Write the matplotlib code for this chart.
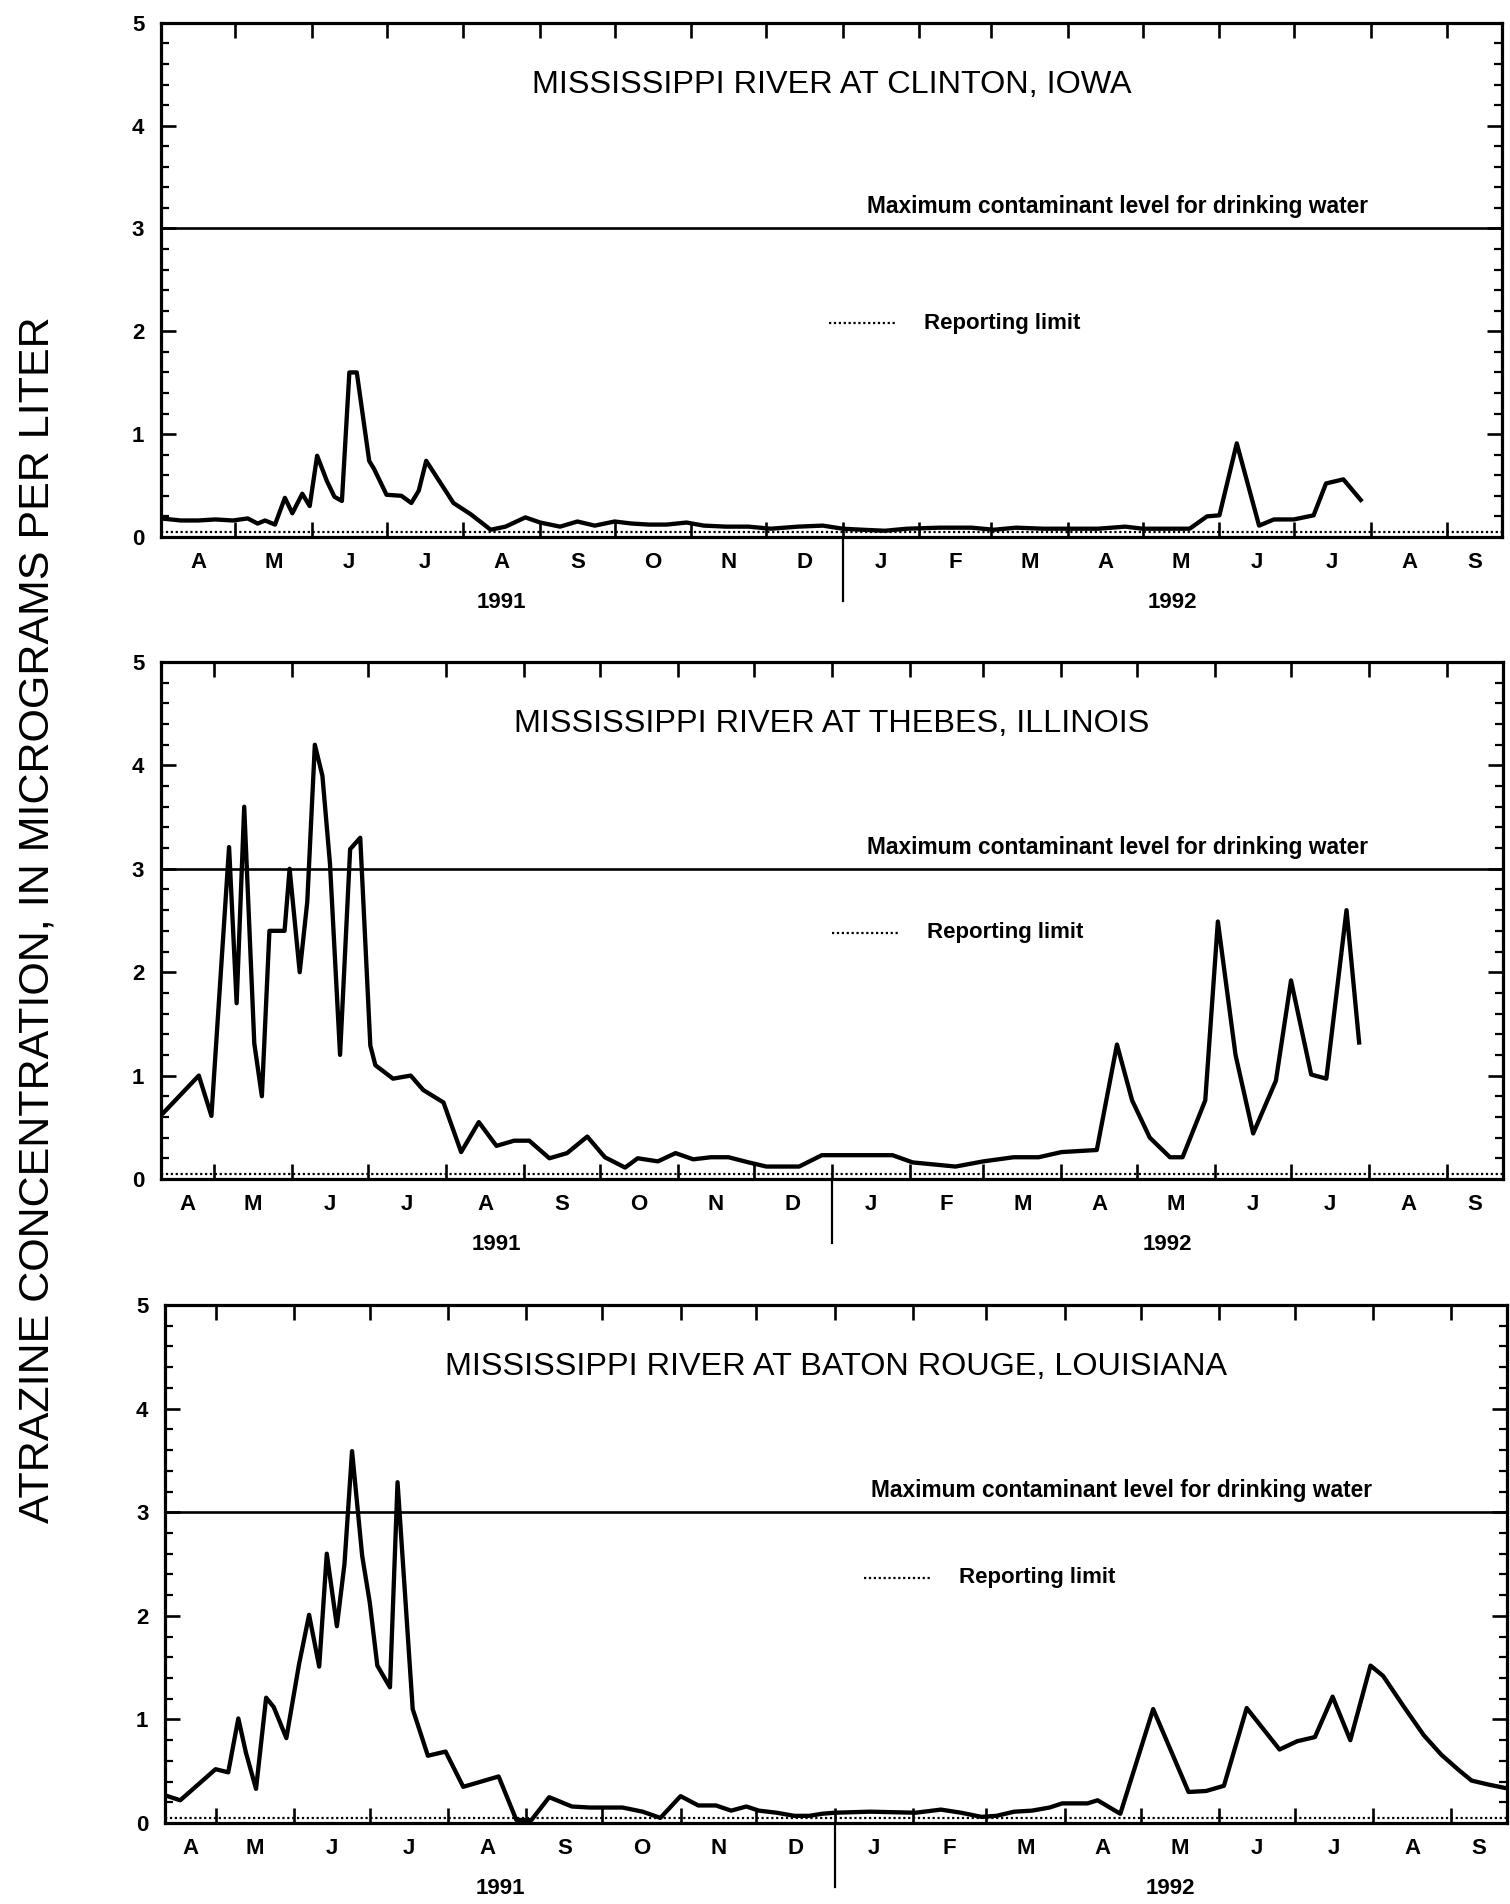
import numpy as np
import pandas as pd
import matplotlib
matplotlib.use('Agg')
from matplotlib import pyplot as plt
from matplotlib.ticker import MultipleLocator, NullFormatter
import matplotlib.dates as mdates

plt.rcParams['font.family'] = ['Liberation Sans', 'DejaVu Sans']

########## DATA ##########
clinton_dates = ['1991-04-01', '1991-04-09', '1991-04-16', '1991-04-23', '1991-04-30',
                 '1991-05-06', '1991-05-10', '1991-05-13', '1991-05-17', '1991-05-21',
                 '1991-05-24', '1991-05-28', '1991-05-31', '1991-06-03', '1991-06-07',
                 '1991-06-10', '1991-06-13', '1991-06-16', '1991-06-19', '1991-06-24',
                 '1991-06-26', '1991-07-01', '1991-07-07', '1991-07-11', '1991-07-14',
                 '1991-07-17', '1991-07-28', '1991-08-04', '1991-08-12', '1991-08-18',
                 '1991-08-26', '1991-09-01', '1991-09-09', '1991-09-16', '1991-09-23',
                 '1991-10-01', '1991-10-08', '1991-10-15', '1991-10-22', '1991-10-30',
                 '1991-11-06', '1991-11-15', '1991-11-24', '1991-12-03', '1991-12-14',
                 '1991-12-24', '1992-01-01', '1992-01-09', '1992-01-18', '1992-01-27',
                 '1992-02-09', '1992-02-22', '1992-03-02', '1992-03-11', '1992-03-22',
                 '1992-04-04', '1992-04-13', '1992-04-24', '1992-05-01', '1992-05-10',
                 '1992-05-20', '1992-05-27', '1992-06-01', '1992-06-08', '1992-06-17',
                 '1992-06-23', '1992-07-01', '1992-07-09', '1992-07-14', '1992-07-21',
                 '1992-07-28']
clinton_vals = [0.18, 0.16, 0.16, 0.17, 0.16, 0.18, 0.13, 0.16, 0.12, 0.38,
                0.23, 0.42, 0.30, 0.79, 0.54, 0.39, 0.35, 1.60, 1.60, 0.74,
                0.66, 0.41, 0.40, 0.33, 0.45, 0.74, 0.33, 0.22, 0.07, 0.10,
                0.19, 0.14, 0.10, 0.15, 0.11, 0.15, 0.13, 0.12, 0.12, 0.14,
                0.11, 0.10, 0.10, 0.08, 0.10, 0.11, 0.08, 0.07, 0.06, 0.08,
                0.09, 0.09, 0.07, 0.09, 0.08, 0.08, 0.08, 0.10, 0.08, 0.08,
                0.08, 0.20, 0.21, 0.91, 0.11, 0.17, 0.17, 0.21, 0.52, 0.56,
                0.36]

thebes_dates = ['1991-04-11', '1991-04-25', '1991-04-30', '1991-05-07', '1991-05-10',
                '1991-05-13', '1991-05-17', '1991-05-20', '1991-05-23', '1991-05-29',
                '1991-05-31', '1991-06-04', '1991-06-07', '1991-06-10', '1991-06-13',
                '1991-06-16', '1991-06-20', '1991-06-24', '1991-06-28', '1991-07-02',
                '1991-07-04', '1991-07-11', '1991-07-18', '1991-07-23', '1991-07-31',
                '1991-08-07', '1991-08-14', '1991-08-21', '1991-08-28', '1991-09-03',
                '1991-09-11', '1991-09-18', '1991-09-26', '1991-10-03', '1991-10-11',
                '1991-10-16', '1991-10-24', '1991-10-31', '1991-11-07', '1991-11-14',
                '1991-11-21', '1991-11-29', '1991-12-06', '1991-12-19', '1991-12-28',
                '1992-01-25', '1992-02-02', '1992-02-19', '1992-03-01', '1992-03-13',
                '1992-03-23', '1992-04-01', '1992-04-15', '1992-04-23', '1992-04-29',
                '1992-05-06', '1992-05-14', '1992-05-19', '1992-05-28', '1992-06-02',
                '1992-06-09', '1992-06-16', '1992-06-25', '1992-07-01', '1992-07-09',
                '1992-07-15', '1992-07-23', '1992-07-28']
thebes_vals = [0.64, 1.00, 0.61, 3.21, 1.70, 3.60, 1.31, 0.80, 2.40, 2.40,
               3.00, 2.00, 2.68, 4.20, 3.90, 3.05, 1.20, 3.19, 3.30, 1.29,
               1.10, 0.97, 1.00, 0.86, 0.74, 0.26, 0.55, 0.32, 0.37, 0.37,
               0.20, 0.25, 0.41, 0.21, 0.11, 0.20, 0.17, 0.25, 0.19, 0.21,
               0.21, 0.16, 0.12, 0.12, 0.23, 0.23, 0.16, 0.12, 0.17, 0.21,
               0.21, 0.26, 0.28, 1.30, 0.76, 0.40, 0.21, 0.21, 0.76, 2.49,
               1.20, 0.44, 0.95, 1.92, 1.01, 0.97, 2.60, 1.32]

baton_dates = ['1991-04-12', '1991-04-17', '1991-04-24', '1991-05-01', '1991-05-06',
               '1991-05-10', '1991-05-13', '1991-05-17', '1991-05-21', '1991-05-24',
               '1991-05-29', '1991-06-03', '1991-06-07', '1991-06-11', '1991-06-14',
               '1991-06-18', '1991-06-21', '1991-06-24', '1991-06-28', '1991-07-01',
               '1991-07-04', '1991-07-09', '1991-07-12', '1991-07-18', '1991-07-24',
               '1991-07-31', '1991-08-07', '1991-08-14', '1991-08-21', '1991-08-28',
               '1991-09-03', '1991-09-10', '1991-09-19', '1991-09-26', '1991-10-02',
               '1991-10-09', '1991-10-17', '1991-10-24', '1991-11-01', '1991-11-08',
               '1991-11-15', '1991-11-21', '1991-11-27', '1991-12-02', '1991-12-09',
               '1991-12-16', '1991-12-22', '1991-12-27', '1992-01-01', '1992-01-15',
               '1992-02-02', '1992-02-12', '1992-02-20', '1992-02-28', '1992-03-05',
               '1992-03-12', '1992-03-19', '1992-03-26', '1992-03-31', '1992-04-10',
               '1992-04-14', '1992-04-23', '1992-05-06', '1992-05-20', '1992-05-27',
               '1992-06-03', '1992-06-12', '1992-06-25', '1992-07-02', '1992-07-09',
               '1992-07-16', '1992-07-23', '1992-07-31', '1992-08-05', '1992-08-13',
               '1992-08-21', '1992-08-28', '1992-09-04', '1992-09-09', '1992-09-16',
               '1992-09-22']
baton_vals = [0.26, 0.22, 0.37, 0.52, 0.49, 1.01, 0.68, 0.33, 1.21, 1.12,
              0.82, 1.53, 2.01, 1.51, 2.60, 1.90, 2.50, 3.59, 2.58, 2.13,
              1.52, 1.31, 3.29, 1.10, 0.65, 0.69, 0.35, 0.40, 0.45, 0.03,
              0.03, 0.25, 0.16, 0.15, 0.15, 0.15, 0.11, 0.05, 0.26, 0.17,
              0.17, 0.12, 0.16, 0.12, 0.10, 0.07, 0.07, 0.09, 0.10, 0.11,
              0.10, 0.13, 0.10, 0.06, 0.07, 0.11, 0.12, 0.15, 0.19, 0.19,
              0.22, 0.09, 1.10, 0.30, 0.31, 0.36, 1.11, 0.71, 0.79, 0.83,
              1.22, 0.80, 1.52, 1.42, 1.13, 0.85, 0.66, 0.51, 0.41, 0.37,
              0.34]

titles = ['MISSISSIPPI RIVER AT CLINTON, IOWA',
          'MISSISSIPPI RIVER AT THEBES, ILLINOIS',
          'MISSISSIPPI RIVER AT BATON ROUGE, LOUISIANA']
x_starts = ['1991-04-01', '1991-04-10', '1991-04-11']
x_end = '1992-09-23'
month_letters = ['A', 'M', 'J', 'J', 'A', 'S', 'O', 'N', 'D',
                 'J', 'F', 'M', 'A', 'M', 'J', 'J', 'A', 'S']
years = ['1991', '1992']
mcl = 3.0            # maximum contaminant level
report_limit = 0.05  # reporting limit

# axes boxes (left, bottom, width, height) in figure fraction
boxes = [[0.1066, 0.7180, 0.8881, 0.2700],
         [0.1066, 0.3808, 0.8887, 0.2715],
         [0.1093, 0.0425, 0.8887, 0.2721]]
legend_y = [2.08, 2.38, 2.37]
legend_x = [0.498, 0.500, 0.521]


fig = plt.figure(figsize=(15.10, 19.04), dpi=100)

series = [(clinton_dates, clinton_vals), (thebes_dates, thebes_vals), (baton_dates, baton_vals)]
for i, (dates, vals) in enumerate(series):
    ax = fig.add_axes(boxes[i])
    x0 = pd.Timestamp(x_starts[i])
    x1 = pd.Timestamp(x_end)
    jan1 = pd.Timestamp('1992-01-01')

    ax.plot(pd.to_datetime(dates), vals, color='black', lw=3.1)
    ax.axhline(mcl, color='black', lw=1.9)
    ax.axhline(report_limit, color='black', lw=1.6, ls=(0, (1, 1.2)))

    ax.set_xlim(x0, x1)
    ax.set_ylim(0, 5)
    for s in ax.spines.values():
        s.set_linewidth(2.3)

    # x ticks at month boundaries, no labels
    ax.xaxis.set_major_locator(mdates.MonthLocator())
    ax.xaxis.set_major_formatter(NullFormatter())
    ax.tick_params(axis='x', which='major', direction='in', top=True, bottom=True,
                   length=11, width=1.9)
    ax.yaxis.set_major_locator(MultipleLocator(1))
    ax.yaxis.set_minor_locator(MultipleLocator(0.2))
    ax.tick_params(axis='y', which='major', direction='in', left=True, right=True,
                   length=11, width=1.9, labelsize=16, pad=12)
    ax.tick_params(axis='y', which='minor', direction='in', left=True, right=True,
                   length=5.5, width=1.6)
    for lab in ax.get_yticklabels():
        lab.set_fontweight('bold')

    # month letters centred in visible part of each month
    starts = pd.date_range(x0.to_period('M').to_timestamp(), x1, freq='MS')
    for k, ms in enumerate(starts):
        a = max(ms, x0)
        b = min(ms + pd.offsets.MonthBegin(1), x1)
        mid = a + (b - a) / 2
        ax.annotate(month_letters[k], xy=(mid, 0), xycoords=('data', 'axes fraction'),
                    xytext=(0, -18.5), textcoords='offset points',
                    ha='center', va='center', fontsize=16, fontweight='bold')

    # year labels and divider
    for yr, (a, b) in zip(years, [(x0, jan1), (jan1, x1)]):
        ax.annotate(yr, xy=(a + (b - a) / 2, 0), xycoords=('data', 'axes fraction'),
                    xytext=(0, -47), textcoords='offset points',
                    ha='center', va='center', fontsize=16, fontweight='bold')
    ax.plot([jan1, jan1], [0, -0.124], transform=ax.get_xaxis_transform(),
            clip_on=False, color='black', lw=1.6)

    # texts inside
    ax.text(0.5, 4.4, titles[i], transform=ax.get_yaxis_transform(),
            ha='center', va='center', fontsize=23.3)
    ax.text(0.713, 3.21, 'Maximum contaminant level for drinking water',
            transform=ax.get_yaxis_transform(), ha='center', va='center',
            fontsize=16.4, fontweight='bold')
    ax.plot([legend_x[i], legend_x[i] + 0.05], [legend_y[i], legend_y[i]],
            transform=ax.get_yaxis_transform(), color='black', lw=1.6, ls=(0, (1, 1.2)))
    ax.text(legend_x[i] + 0.071, legend_y[i], 'Reporting limit',
            transform=ax.get_yaxis_transform(), ha='left', va='center',
            fontsize=16, fontweight='bold')

fig.text(0.025, 0.517, 'ATRAZINE CONCENTRATION, IN MICROGRAMS PER LITER',
         rotation=90, ha='center', va='center', fontsize=31)

fig.savefig('out.png', dpi=100)
